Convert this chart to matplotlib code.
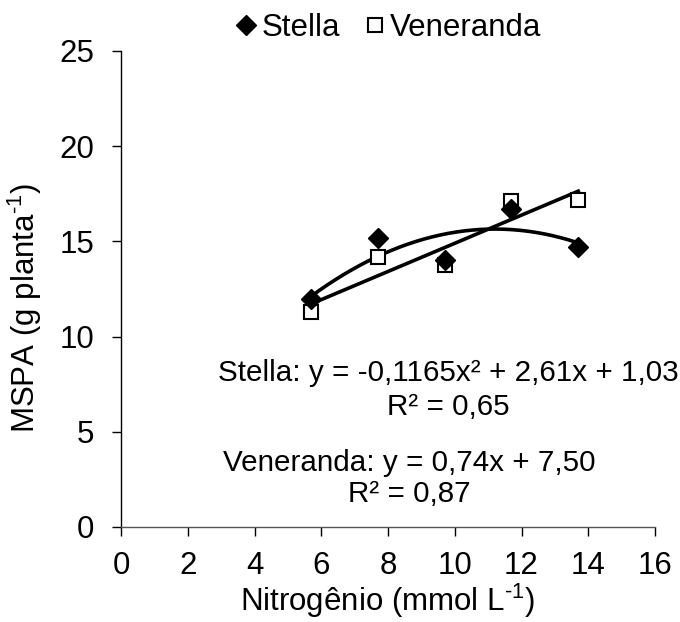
import numpy as np
import matplotlib
matplotlib.use("Agg")
import matplotlib.pyplot as plt

plt.rcParams['font.family'] = ['Liberation Sans', 'DejaVu Sans']
plt.rcParams['mathtext.fontset'] = 'custom'
plt.rcParams['mathtext.rm'] = 'Liberation Sans'

# Data
nitrogen = [5.7, 7.7, 9.7, 11.7, 13.7]
stella = [12.0, 15.2, 14.0, 16.7, 14.7]
veneranda = [11.3, 14.2, 13.75, 17.1, 17.2]
stella_coef = [-0.1165, 2.61, 1.03]
veneranda_coef = [0.74, 7.50]
x_ticks = [0, 2, 4, 6, 8, 10, 12, 14, 16]
y_ticks = [0, 5, 10, 15, 20, 25]

fig = plt.figure(figsize=(6.8, 6.22), dpi=100)
ax = fig.add_axes([121/680, 1-527/622, (655-121)/680, (527-51)/622])

xs = np.linspace(min(nitrogen), max(nitrogen), 200)
ax.plot(xs, np.polyval(stella_coef, xs), color='black', lw=2.6, zorder=2)
ax.plot(xs, np.polyval(veneranda_coef, xs), color='black', lw=2.6, zorder=2)

ax.plot(nitrogen, veneranda, ls='none', marker='s', ms=10, mfc='white',
        mec='black', mew=1.5, label='Veneranda', zorder=3)
ax.plot(nitrogen, stella, ls='none', marker='D', ms=10, mfc='black',
        mec='black', label='Stella', zorder=4)

ax.set_xlim(0, 16)
ax.set_ylim(0, 25)
ax.set_xticks(x_ticks)
ax.set_yticks(y_ticks)
ax.tick_params(labelsize=22.5, direction='out', length=6.5, width=1)
ax.tick_params(axis='y', pad=13)
ax.tick_params(axis='x', pad=11)
for s in ['top', 'right']:
    ax.spines[s].set_visible(False)
ax.spines['left'].set_linewidth(1)
ax.spines['bottom'].set_linewidth(1)
ax.spines['bottom'].set_color('#555555')

ax.set_xlabel('Nitrogênio (mmol L$^{\\mathregular{\u20101}}$)', fontsize=22.5, labelpad=0)
ax.set_ylabel('MSPA (g planta$^{\\mathregular{\u20101}}$)', fontsize=22.5)
ax.yaxis.set_label_coords(-0.145, 0.46)

h, l = ax.get_legend_handles_labels()
fig.legend([h[1], h[0]], [l[1], l[0]], loc='center', bbox_to_anchor=(386/680, 1-28/622),
           ncol=2, frameon=False, fontsize=22.5, handletextpad=0.0, columnspacing=0.6,
           handlelength=1.0, markerscale=1.05)

fig.text(448/680, 1-373/622, 'Stella: y = -0,1165x² + 2,61x + 1,03', fontsize=21.3,
         ha='center', va='center')
fig.text(448/680, 1-407/622, 'R² = 0,65', fontsize=21.3, ha='center', va='center')
fig.text(409/680, 1-463/622, 'Veneranda: y = 0,74x + 7,50', fontsize=21.3,
         ha='center', va='center')
fig.text(409/680, 1-494/622, 'R² = 0,87', fontsize=21.3, ha='center', va='center')

fig.savefig('out.png', dpi=100)
